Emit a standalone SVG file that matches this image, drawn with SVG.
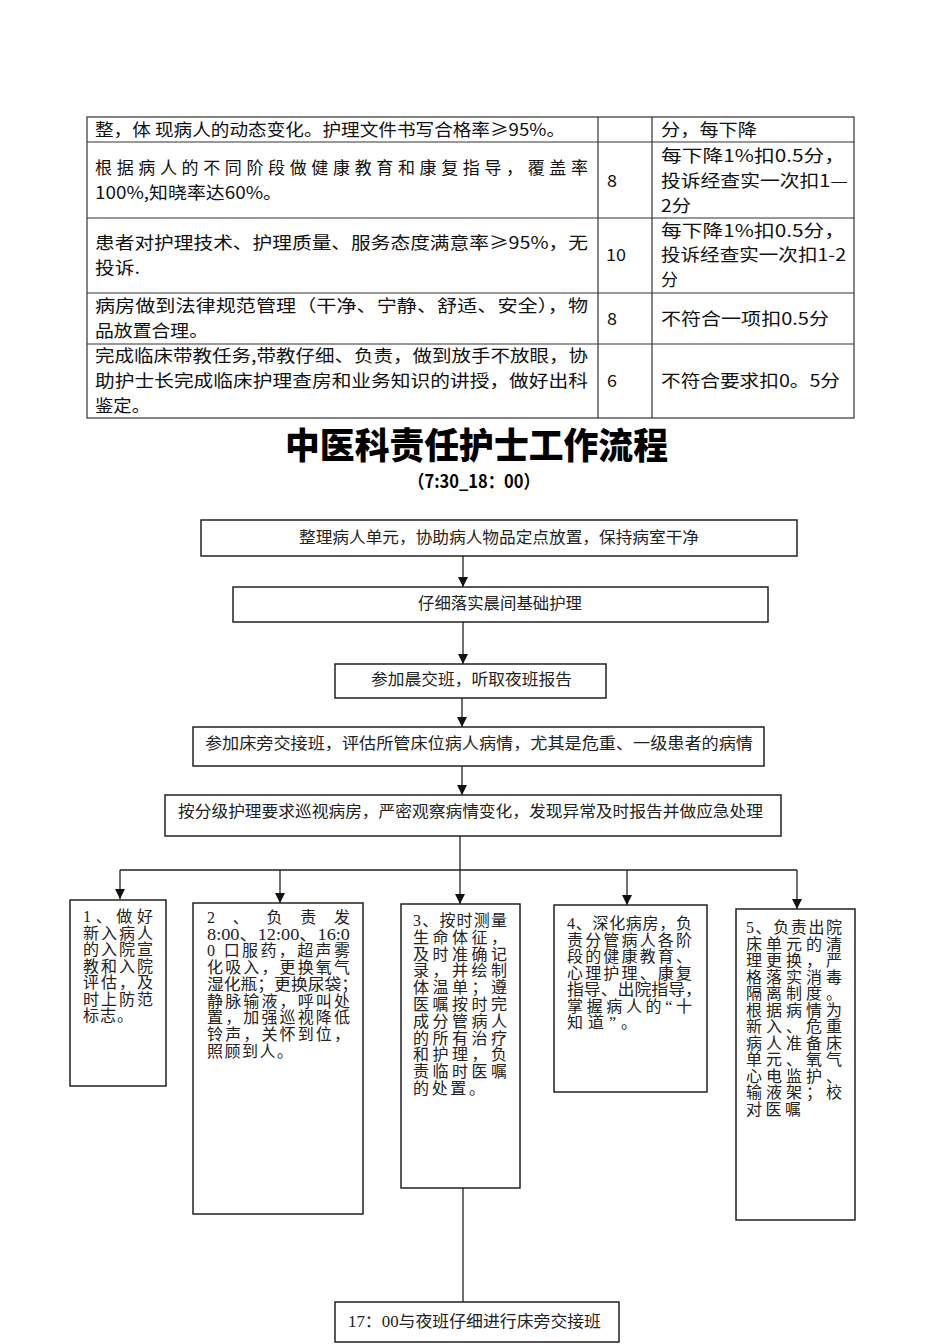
<svg xmlns="http://www.w3.org/2000/svg" width="950" height="1344" viewBox="0 0 950 1344">
<style>
.tb{fill:none;stroke:#333;stroke-width:1.2}
.tt{font-family:"Noto Sans CJK SC",sans-serif;font-size:17px;fill:#111}
.box{fill:#fff;stroke:#222;stroke-width:1.5}
.ft{font-family:"Liberation Serif","Noto Sans CJK SC",serif;font-size:16px;fill:#222}
.bt{font-family:"Liberation Serif","Noto Sans CJK SC",serif;font-size:16px;fill:#222}
.ln{stroke:#222;stroke-width:1.3;fill:none}
.ar{stroke:#222;stroke-width:1.3;fill:none;marker-end:url(#ah)}
</style>
<defs>
<marker id="ah" viewBox="0 0 10 10" refX="10" refY="5" markerWidth="10" markerHeight="10" markerUnits="userSpaceOnUse" orient="auto">
<path d="M0,0 L10,5 L0,10 z" fill="#111"/>
</marker>
</defs>
<rect width="950" height="1344" fill="#fff"/>

<g id="table">
<rect class="tb" x="87" y="117" width="767" height="301"/>
<line class="tb" x1="87" y1="142" x2="854" y2="142"/>
<line class="tb" x1="87" y1="218" x2="854" y2="218"/>
<line class="tb" x1="87" y1="293" x2="854" y2="293"/>
<line class="tb" x1="87" y1="344" x2="854" y2="344"/>
<line class="tb" x1="598" y1="117" x2="598" y2="418"/>
<line class="tb" x1="652" y1="117" x2="652" y2="418"/>
<text class="tt" x="95" y="136" textLength="470" lengthAdjust="spacingAndGlyphs">整，体 现病人的动态变化。护理文件书写合格率≥95%。</text>
<text class="tt" x="661" y="136" textLength="96" lengthAdjust="spacingAndGlyphs">分，每下降</text>
<text class="tt" x="95" y="174" textLength="493" lengthAdjust="spacing">根据病人的不同阶段做健康教育和康复指导，覆盖率</text>
<text class="tt" x="95" y="199" textLength="187" lengthAdjust="spacingAndGlyphs">100%,知晓率达60%。</text>
<text class="tt" x="607" y="187" textLength="10" lengthAdjust="spacingAndGlyphs">8</text>
<text class="tt" x="661" y="162" textLength="184" lengthAdjust="spacingAndGlyphs">每下降1%扣0.5分，</text>
<text class="tt" x="661" y="187" textLength="187" lengthAdjust="spacingAndGlyphs">投诉经查实一次扣1—</text>
<text class="tt" x="661" y="212" textLength="30" lengthAdjust="spacingAndGlyphs">2分</text>
<text class="tt" x="95" y="249" textLength="493" lengthAdjust="spacingAndGlyphs">患者对护理技术、护理质量、服务态度满意率≥95%，无</text>
<text class="tt" x="95" y="274" textLength="45" lengthAdjust="spacingAndGlyphs">投诉.</text>
<text class="tt" x="606" y="261" textLength="20" lengthAdjust="spacingAndGlyphs">10</text>
<text class="tt" x="661" y="237" textLength="184" lengthAdjust="spacingAndGlyphs">每下降1%扣0.5分，</text>
<text class="tt" x="661" y="261" textLength="185" lengthAdjust="spacingAndGlyphs">投诉经查实一次扣1-2</text>
<text class="tt" x="661" y="286" textLength="17" lengthAdjust="spacingAndGlyphs">分</text>
<text class="tt" x="95" y="312" textLength="493" lengthAdjust="spacingAndGlyphs">病房做到法律规范管理（干净、宁静、舒适、安全），物</text>
<text class="tt" x="95" y="337" textLength="113" lengthAdjust="spacingAndGlyphs">品放置合理。</text>
<text class="tt" x="607" y="325" textLength="10" lengthAdjust="spacingAndGlyphs">8</text>
<text class="tt" x="661" y="325" textLength="168" lengthAdjust="spacingAndGlyphs">不符合一项扣0.5分</text>
<text class="tt" x="95" y="362" textLength="493" lengthAdjust="spacingAndGlyphs">完成临床带教任务,带教仔细、负责，做到放手不放眼，协</text>
<text class="tt" x="95" y="387" textLength="493" lengthAdjust="spacingAndGlyphs">助护士长完成临床护理查房和业务知识的讲授，做好出科</text>
<text class="tt" x="95" y="412" textLength="55" lengthAdjust="spacingAndGlyphs">鉴定。</text>
<text class="tt" x="607" y="387" textLength="10" lengthAdjust="spacingAndGlyphs">6</text>
<text class="tt" x="661" y="387" textLength="179" lengthAdjust="spacingAndGlyphs">不符合要求扣0。5分</text>
</g>

<g id="title">
<text x="285" y="459" textLength="383" lengthAdjust="spacingAndGlyphs" style="font-family:'Noto Sans CJK SC',sans-serif;font-size:36px;font-weight:900;fill:#000">中医科责任护士工作流程</text>
<text x="408" y="488" textLength="132" lengthAdjust="spacingAndGlyphs" style="font-family:'Noto Sans CJK SC',sans-serif;font-size:18px;font-weight:700;fill:#000">（7:30_18：00）</text>
</g>

<g id="connectors">
<line class="ar" x1="463" y1="556" x2="463" y2="587"/>
<line class="ar" x1="463" y1="622" x2="463" y2="664"/>
<line class="ar" x1="462" y1="698" x2="462" y2="727"/>
<line class="ar" x1="462" y1="766" x2="462" y2="795"/>
<line class="ln" x1="120" y1="870" x2="797" y2="870"/>
<line class="ar" x1="460" y1="836" x2="460" y2="904"/>
<line class="ar" x1="120" y1="870" x2="120" y2="899"/>
<line class="ar" x1="280" y1="870" x2="280" y2="903"/>
<line class="ar" x1="627" y1="870" x2="627" y2="905"/>
<line class="ar" x1="797" y1="870" x2="797" y2="909"/>
<line class="ln" x1="463" y1="1188" x2="463" y2="1302"/>
</g>

<g id="n-a">
<rect class="box" x="201" y="520" width="596" height="36"/>
<text class="ft" x="299" y="543" textLength="400" lengthAdjust="spacingAndGlyphs">整理病人单元，协助病人物品定点放置，保持病室干净</text>
</g>
<g id="n-b">
<rect class="box" x="233" y="587" width="535" height="35"/>
<text class="ft" x="418" y="609" textLength="164" lengthAdjust="spacingAndGlyphs">仔细落实晨间基础护理</text>
</g>
<g id="n-c">
<rect class="box" x="335" y="664" width="271" height="34"/>
<text class="ft" x="371" y="685" textLength="201" lengthAdjust="spacingAndGlyphs">参加晨交班，听取夜班报告</text>
</g>
<g id="n-d">
<rect class="box" x="193" y="727" width="571" height="39"/>
<text class="ft" x="205" y="749" textLength="548" lengthAdjust="spacingAndGlyphs">参加床旁交接班，评估所管床位病人病情，尤其是危重、一级患者的病情</text>
</g>
<g id="n-e">
<rect class="box" x="165" y="795" width="616" height="41"/>
<text class="ft" x="178" y="817" textLength="585" lengthAdjust="spacingAndGlyphs">按分级护理要求巡视病房，严密观察病情变化，发现异常及时报告并做应急处理</text>
</g>

<g id="n-1">
<rect class="box" x="70" y="900" width="96" height="186"/>
<text class="bt" x="83" y="922" textLength="70" lengthAdjust="spacing">1、做好</text>
<text class="bt" x="83" y="938.5" textLength="70" lengthAdjust="spacing">新入病人</text>
<text class="bt" x="83" y="955" textLength="70" lengthAdjust="spacing">的入院宣</text>
<text class="bt" x="83" y="971.5" textLength="70" lengthAdjust="spacing">教和入院</text>
<text class="bt" x="83" y="988" textLength="70" lengthAdjust="spacing">评估，及</text>
<text class="bt" x="83" y="1004.5" textLength="70" lengthAdjust="spacing">时上防范</text>
<text class="bt" x="83" y="1021" textLength="50" lengthAdjust="spacing">标志。</text>
</g>
<g id="n-2">
<rect class="box" x="193" y="903" width="170" height="311"/>
<text class="bt" x="207" y="923" textLength="143" lengthAdjust="spacing">2 、 负 责 发</text>
<text class="bt" x="207" y="939.7" textLength="143" lengthAdjust="spacingAndGlyphs">8:00、12:00、16:0</text>
<text class="bt" x="207" y="956.4" textLength="143" lengthAdjust="spacing">0 口服药，超声雾</text>
<text class="bt" x="207" y="973.1" textLength="143" lengthAdjust="spacing">化吸入，更换氧气</text>
<text class="bt" x="207" y="989.8" textLength="151" lengthAdjust="spacingAndGlyphs">湿化瓶；更换尿袋；</text>
<text class="bt" x="207" y="1006.5" textLength="143" lengthAdjust="spacing">静脉输液，呼叫处</text>
<text class="bt" x="207" y="1023.2" textLength="143" lengthAdjust="spacing">置，加强巡视降低</text>
<text class="bt" x="207" y="1039.9" textLength="143" lengthAdjust="spacing">铃声，关怀到位，</text>
<text class="bt" x="207" y="1056.6" textLength="86" lengthAdjust="spacing">照顾到人。</text>
</g>
<g id="n-3">
<rect class="box" x="401" y="904" width="119" height="284"/>
<text class="bt" x="413" y="926" textLength="94" lengthAdjust="spacing">3、按时测量</text>
<text class="bt" x="413" y="942.8" textLength="94" lengthAdjust="spacing">生命体征，</text>
<text class="bt" x="413" y="959.6" textLength="94" lengthAdjust="spacing">及时准确记</text>
<text class="bt" x="413" y="976.4" textLength="94" lengthAdjust="spacing">录，并绘制</text>
<text class="bt" x="413" y="993.2" textLength="94" lengthAdjust="spacing">体温单；遵</text>
<text class="bt" x="413" y="1010" textLength="94" lengthAdjust="spacing">医嘱按时完</text>
<text class="bt" x="413" y="1026.8" textLength="94" lengthAdjust="spacing">成分管病人</text>
<text class="bt" x="413" y="1043.6" textLength="94" lengthAdjust="spacing">的所有治疗</text>
<text class="bt" x="413" y="1060.4" textLength="94" lengthAdjust="spacing">和护理，负</text>
<text class="bt" x="413" y="1077.2" textLength="94" lengthAdjust="spacing">责临时医嘱</text>
<text class="bt" x="413" y="1094" textLength="72" lengthAdjust="spacing">的处置。</text>
</g>
<g id="n-4">
<rect class="box" x="554" y="905" width="153" height="187"/>
<text class="bt" x="567" y="929" textLength="125" lengthAdjust="spacing">4、深化病房，负</text>
<text class="bt" x="567" y="945.5" textLength="125" lengthAdjust="spacing">责分管病人各阶</text>
<text class="bt" x="567" y="962" textLength="125" lengthAdjust="spacing">段的健康教育、</text>
<text class="bt" x="567" y="978.5" textLength="125" lengthAdjust="spacing">心理护理、康复</text>
<text class="bt" x="567" y="995" textLength="135" lengthAdjust="spacingAndGlyphs">指导、出院指导，</text>
<text class="bt" x="567" y="1011.5" textLength="125" lengthAdjust="spacing">掌握病人的“十</text>
<text class="bt" x="567" y="1028" textLength="70" lengthAdjust="spacing">知道”。</text>
</g>
<g id="n-5">
<rect class="box" x="736" y="909" width="119" height="311"/>
<text class="bt" x="746" y="933" textLength="96" lengthAdjust="spacing">5、负责出院</text>
<text class="bt" x="746" y="949.5" textLength="96" lengthAdjust="spacing">床单元的清</text>
<text class="bt" x="746" y="966" textLength="96" lengthAdjust="spacing">理更换，严</text>
<text class="bt" x="746" y="982.5" textLength="96" lengthAdjust="spacing">格落实消毒</text>
<text class="bt" x="746" y="999" textLength="96" lengthAdjust="spacing">隔离制度。</text>
<text class="bt" x="746" y="1015.5" textLength="96" lengthAdjust="spacing">根据病情为</text>
<text class="bt" x="746" y="1032" textLength="96" lengthAdjust="spacing">新入、危重</text>
<text class="bt" x="746" y="1048.5" textLength="96" lengthAdjust="spacing">病人准备床</text>
<text class="bt" x="746" y="1065" textLength="96" lengthAdjust="spacing">单元、氧气</text>
<text class="bt" x="746" y="1081.5" textLength="96" lengthAdjust="spacing">心电监护、</text>
<text class="bt" x="746" y="1098" textLength="96" lengthAdjust="spacing">输液架；校</text>
<text class="bt" x="746" y="1114.5" textLength="55" lengthAdjust="spacing">对医嘱</text>
</g>

<g id="n-f">
<rect class="box" x="335" y="1302" width="284" height="40"/>
<text class="ft" x="348" y="1327" textLength="253" lengthAdjust="spacingAndGlyphs">17：00与夜班仔细进行床旁交接班</text>
</g>
</svg>
